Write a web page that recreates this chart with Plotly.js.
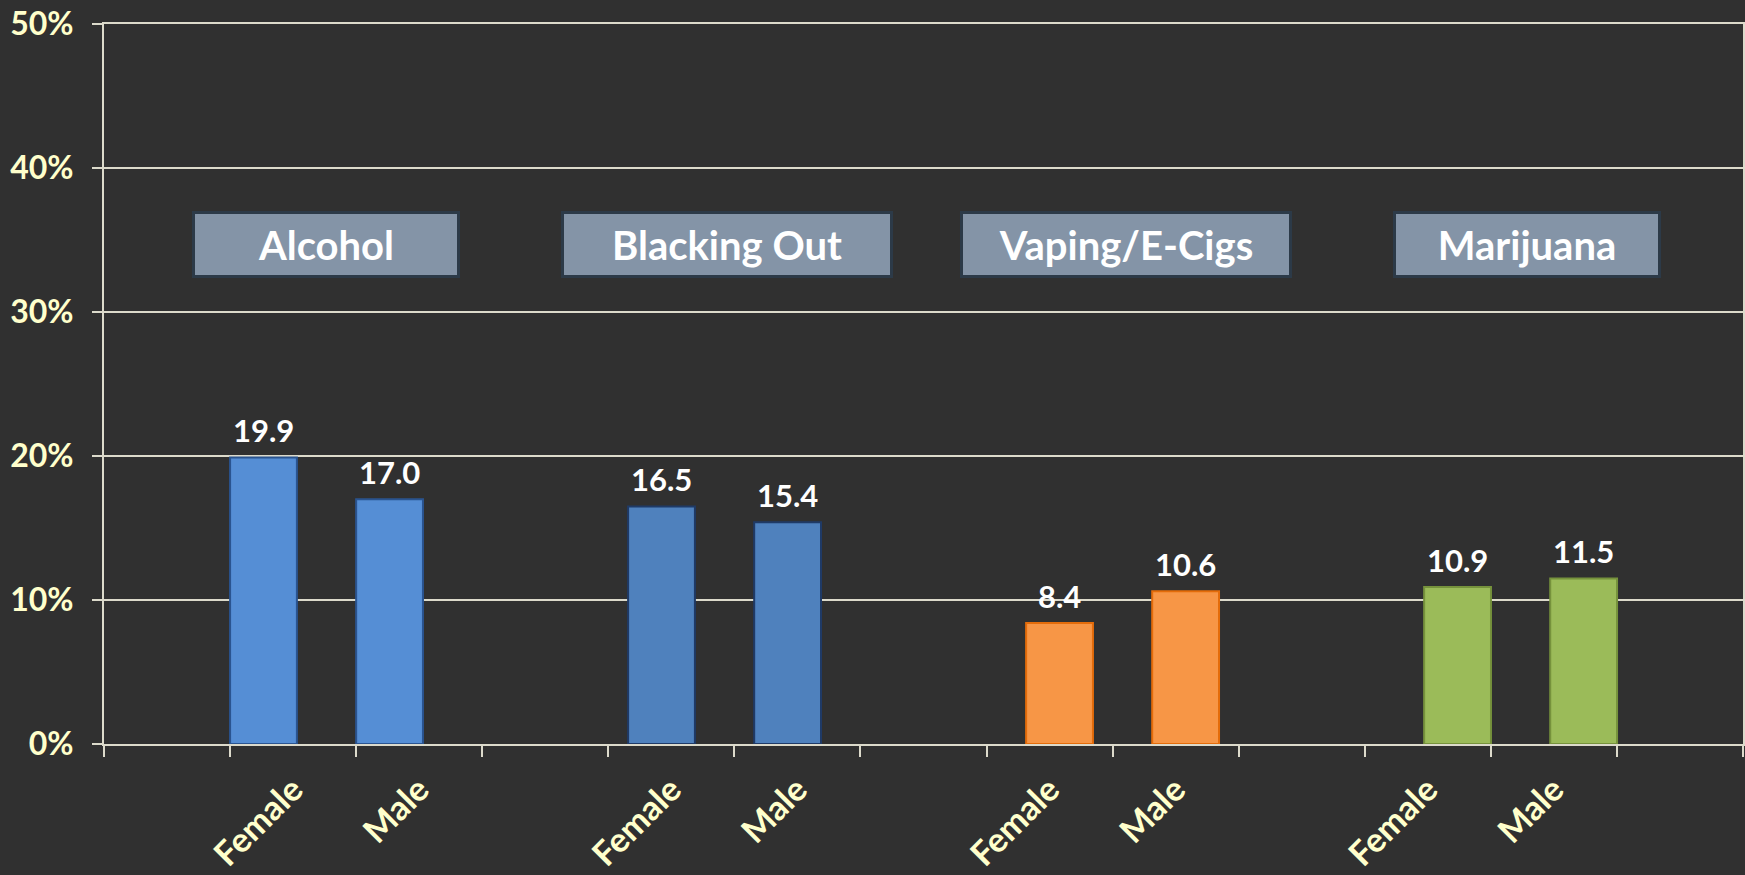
<!DOCTYPE html>
<html>
<head>
<meta charset="utf-8">
<script src="https://cdn.plot.ly/plotly-3.0.1.min.js"></script>
<style>
  html, body { margin: 0; padding: 0; background: #303030; }
  #chart { width: 1745px; height: 875px; }
</style>
</head>
<body>
<div id="chart"></div>
<script>
// ---- Data ----
const slotLabels = ["", "Female", "Male", "", "Female", "Male", "", "Female", "Male", "", "Female", "Male", ""];
const groups = ["Alcohol", "Blacking Out", "Vaping/E-Cigs", "Marijuana"];
const alcohol = [19.9, 17.0];
const blackingOut = [16.5, 15.4];
const vaping = [8.4, 10.6];
const marijuana = [10.9, 11.5];
const yTicks = [0, 10, 20, 30, 40, 50];

// ---- Styles ----
const seriesValues = [alcohol, blackingOut, vaping, marijuana];
const fills = ["#558ED5", "#4F81BD", "#F79646", "#9BBB59"];
const borders = ["#2A5490", "#1F3A66", "#E46C0A", "#76923C"];
const FONT = "Lato, 'Open Sans', sans-serif";
const LABEL_COLOR = "#FFFFCC";
const LINE_COLOR = "#DCDACB";
const BAR_W = 0.53;

const slotPos = slotLabels.map((_, i) => i + 1);
const boundaries = slotLabels.map((_, i) => i + 0.5).concat([slotLabels.length + 0.5]);

// slots of each group: the Female/Male pair
const groupSlots = [];
{
  let g = -1;
  slotLabels.forEach((lab, i) => {
    if (lab === "Female") { g++; groupSlots[g] = [slotPos[i]]; }
    else if (lab === "Male") { groupSlots[g].push(slotPos[i]); }
  });
}
const offsets = groups.map((_, g) => -0.5 + 0.157 * g);

const traces = seriesValues.map((vals, g) => ({
  type: "bar",
  x: groupSlots[g],
  y: vals,
  width: BAR_W,
  offset: offsets[g],
  marker: { color: fills[g], line: { color: borders[g], width: 2 } },
  hoverinfo: "skip",
  showlegend: false
}));

// dummy trace to carry the boundary-tick axis
traces.push({
  type: "scatter", x: [1], y: [0], xaxis: "x2", yaxis: "y",
  mode: "markers", marker: { opacity: 0 }, hoverinfo: "skip", showlegend: false
});

// group title boxes
const boxCenters = [2.26, 5.44, 8.61, 11.79];
const boxWidths = [262, 326, 326, 262];
const annotations = groups.map((name, g) => ({
  x: boxCenters[g], y: 34.7, xref: "x", yref: "y",
  text: "<b>" + name + "</b>",
  showarrow: false,
  font: { family: FONT, size: 40, color: "#FFFFFF" },
  bgcolor: "#8494A7",
  bordercolor: "#2C3A48",
  borderwidth: 3,
  borderpad: 0,
  width: boxWidths[g],
  height: 61,
  align: "center",
  valign: "middle"
}));

// value labels above bars
seriesValues.forEach((vals, g) => {
  vals.forEach((v, k) => {
    annotations.push({
      x: groupSlots[g][k] + offsets[g] + BAR_W / 2,
      y: v, xref: "x", yref: "y",
      yanchor: "bottom", yshift: 6,
      text: "<b>" + v.toFixed(1) + "</b>",
      showarrow: false,
      font: { family: FONT, size: 31, color: "#FFFFFF", weight: 900 }
    });
  });
});

const layout = {
  width: 1745, height: 875,
  paper_bgcolor: "#303030",
  plot_bgcolor: "#303030",
  margin: { l: 104, r: 2, t: 24, b: 131 },
  bargap: 0,
  barmode: "overlay",
  xaxis: {
    range: [0.5, slotLabels.length + 0.5],
    tickmode: "array",
    tickvals: slotPos,
    ticktext: slotLabels.map(s => s ? "<b>" + s + "</b>" : ""),
    tickangle: -45,
    ticks: "outside",
    ticklen: 10,
    tickcolor: "rgba(0,0,0,0)",
    tickfont: { family: FONT, size: 34, color: LABEL_COLOR, weight: 900 },
    showgrid: false,
    zeroline: false,
    showline: true,
    linecolor: LINE_COLOR,
    linewidth: 2,
    mirror: true,
    fixedrange: true
  },
  xaxis2: {
    overlaying: "x",
    anchor: "y",
    side: "bottom",
    range: [0.5, slotLabels.length + 0.5],
    tickmode: "array",
    tickvals: boundaries,
    ticks: "outside",
    ticklen: 12,
    tickwidth: 2,
    tickcolor: LINE_COLOR,
    showticklabels: false,
    showgrid: false,
    zeroline: false,
    showline: false
  },
  yaxis: {
    range: [0, 50],
    tickmode: "array",
    tickvals: yTicks,
    ticktext: yTicks.map(v => "<b>" + v + "%</b>"),
    ticks: "outside",
    ticklen: 10,
    tickwidth: 2,
    tickcolor: LINE_COLOR,
    ticklabelstandoff: 12,
    tickfont: { family: FONT, size: 32, color: LABEL_COLOR, weight: 900 },
    showgrid: true,
    gridcolor: LINE_COLOR,
    gridwidth: 2,
    zeroline: false,
    showline: true,
    linecolor: LINE_COLOR,
    linewidth: 2,
    mirror: true,
    fixedrange: true
  },
  annotations: annotations
};

Plotly.newPlot("chart", traces, layout, { displayModeBar: false, staticPlot: true });
</script>
</body>
</html>
